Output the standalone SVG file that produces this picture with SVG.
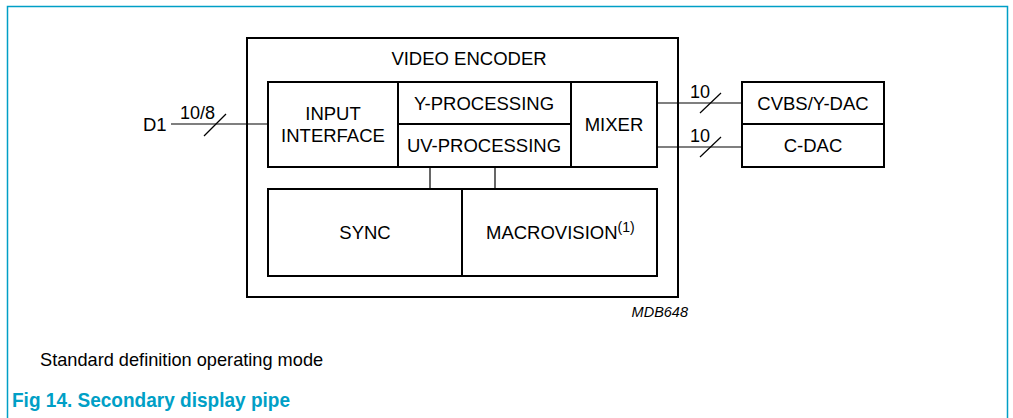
<svg xmlns="http://www.w3.org/2000/svg" width="1013" height="418" viewBox="0 0 1013 418">
<style>
.box{fill:#fff;stroke:#000;stroke-width:2}
.wire{fill:none;stroke:#000;stroke-width:1.2}
.t{font-family:"Liberation Sans",Arial,sans-serif;font-size:18.5px;fill:#000}
.m{text-anchor:middle}
.small{font-family:"Liberation Sans",Arial,sans-serif;font-size:18px;fill:#000}
</style>
<rect width="1013" height="418" fill="#fff"/>
<path d="M7.5 420 V6.5 H1007.5 V420" fill="none" stroke="#009fc6" stroke-width="1.5"/>

<g id="video-encoder">
<rect class="box" x="247" y="38" width="431" height="259"/>
<text class="t m" x="469" y="65">VIDEO ENCODER</text>
</g>
<g id="input-interface">
<rect class="box" x="268" y="82" width="130" height="85"/>
<text class="t m" x="333" y="120">INPUT</text>
<text class="t m" x="333" y="142">INTERFACE</text>
</g>
<g id="y-processing">
<rect class="box" x="398" y="82" width="173" height="42"/>
<text class="t m" x="484" y="110">Y-PROCESSING</text>
</g>
<g id="uv-processing">
<rect class="box" x="398" y="124" width="173" height="43"/>
<text class="t m" x="484" y="152">UV-PROCESSING</text>
</g>
<g id="mixer">
<rect class="box" x="571" y="82" width="86" height="85"/>
<text class="t m" x="614" y="131">MIXER</text>
</g>
<g id="sync">
<rect class="box" x="268" y="189" width="194" height="87"/>
<text class="t m" x="365" y="239">SYNC</text>
</g>
<g id="macrovision">
<rect class="box" x="462" y="189" width="195" height="87"/>
<text class="t" x="486" y="239">MACROVISION<tspan font-size="14" dy="-7">(1)</tspan></text>
</g>
<g id="cvbs-y-dac">
<rect class="box" x="742" y="82" width="142" height="42"/>
<text class="t m" x="813" y="110">CVBS/Y-DAC</text>
</g>
<g id="c-dac">
<rect class="box" x="742" y="124" width="142" height="43"/>
<text class="t m" x="813" y="152">C-DAC</text>
</g>

<g id="connectors">
<line class="wire" x1="171" y1="124" x2="268" y2="124"/>
<line class="wire" x1="204" y1="136" x2="226" y2="114"/>
<text class="small" x="180" y="119">10/8</text>
<text class="t" x="143" y="131">D1</text>
<line class="wire" x1="657" y1="103" x2="742" y2="103"/>
<line class="wire" x1="700" y1="113" x2="721" y2="93"/>
<text class="small" x="690" y="98">10</text>
<line class="wire" x1="657" y1="147" x2="742" y2="147"/>
<line class="wire" x1="700" y1="157" x2="721" y2="137"/>
<text class="small" x="690" y="142">10</text>
<line class="wire" x1="430" y1="167" x2="430" y2="189"/>
<line class="wire" x1="495" y1="167" x2="495" y2="189"/>
</g>

<text x="688" y="317" text-anchor="end" font-family="'Liberation Sans',Arial,sans-serif" font-size="14.5" font-style="italic">MDB648</text>
<text x="40" y="366" font-family="'Liberation Sans',Arial,sans-serif" font-size="18.2" fill="#000">Standard definition operating mode</text>
<text x="12" y="407" font-family="'Liberation Sans',Arial,sans-serif" font-size="21" font-weight="bold" fill="#009fc6" textLength="278" lengthAdjust="spacingAndGlyphs">Fig 14.  Secondary display pipe</text>
</svg>
